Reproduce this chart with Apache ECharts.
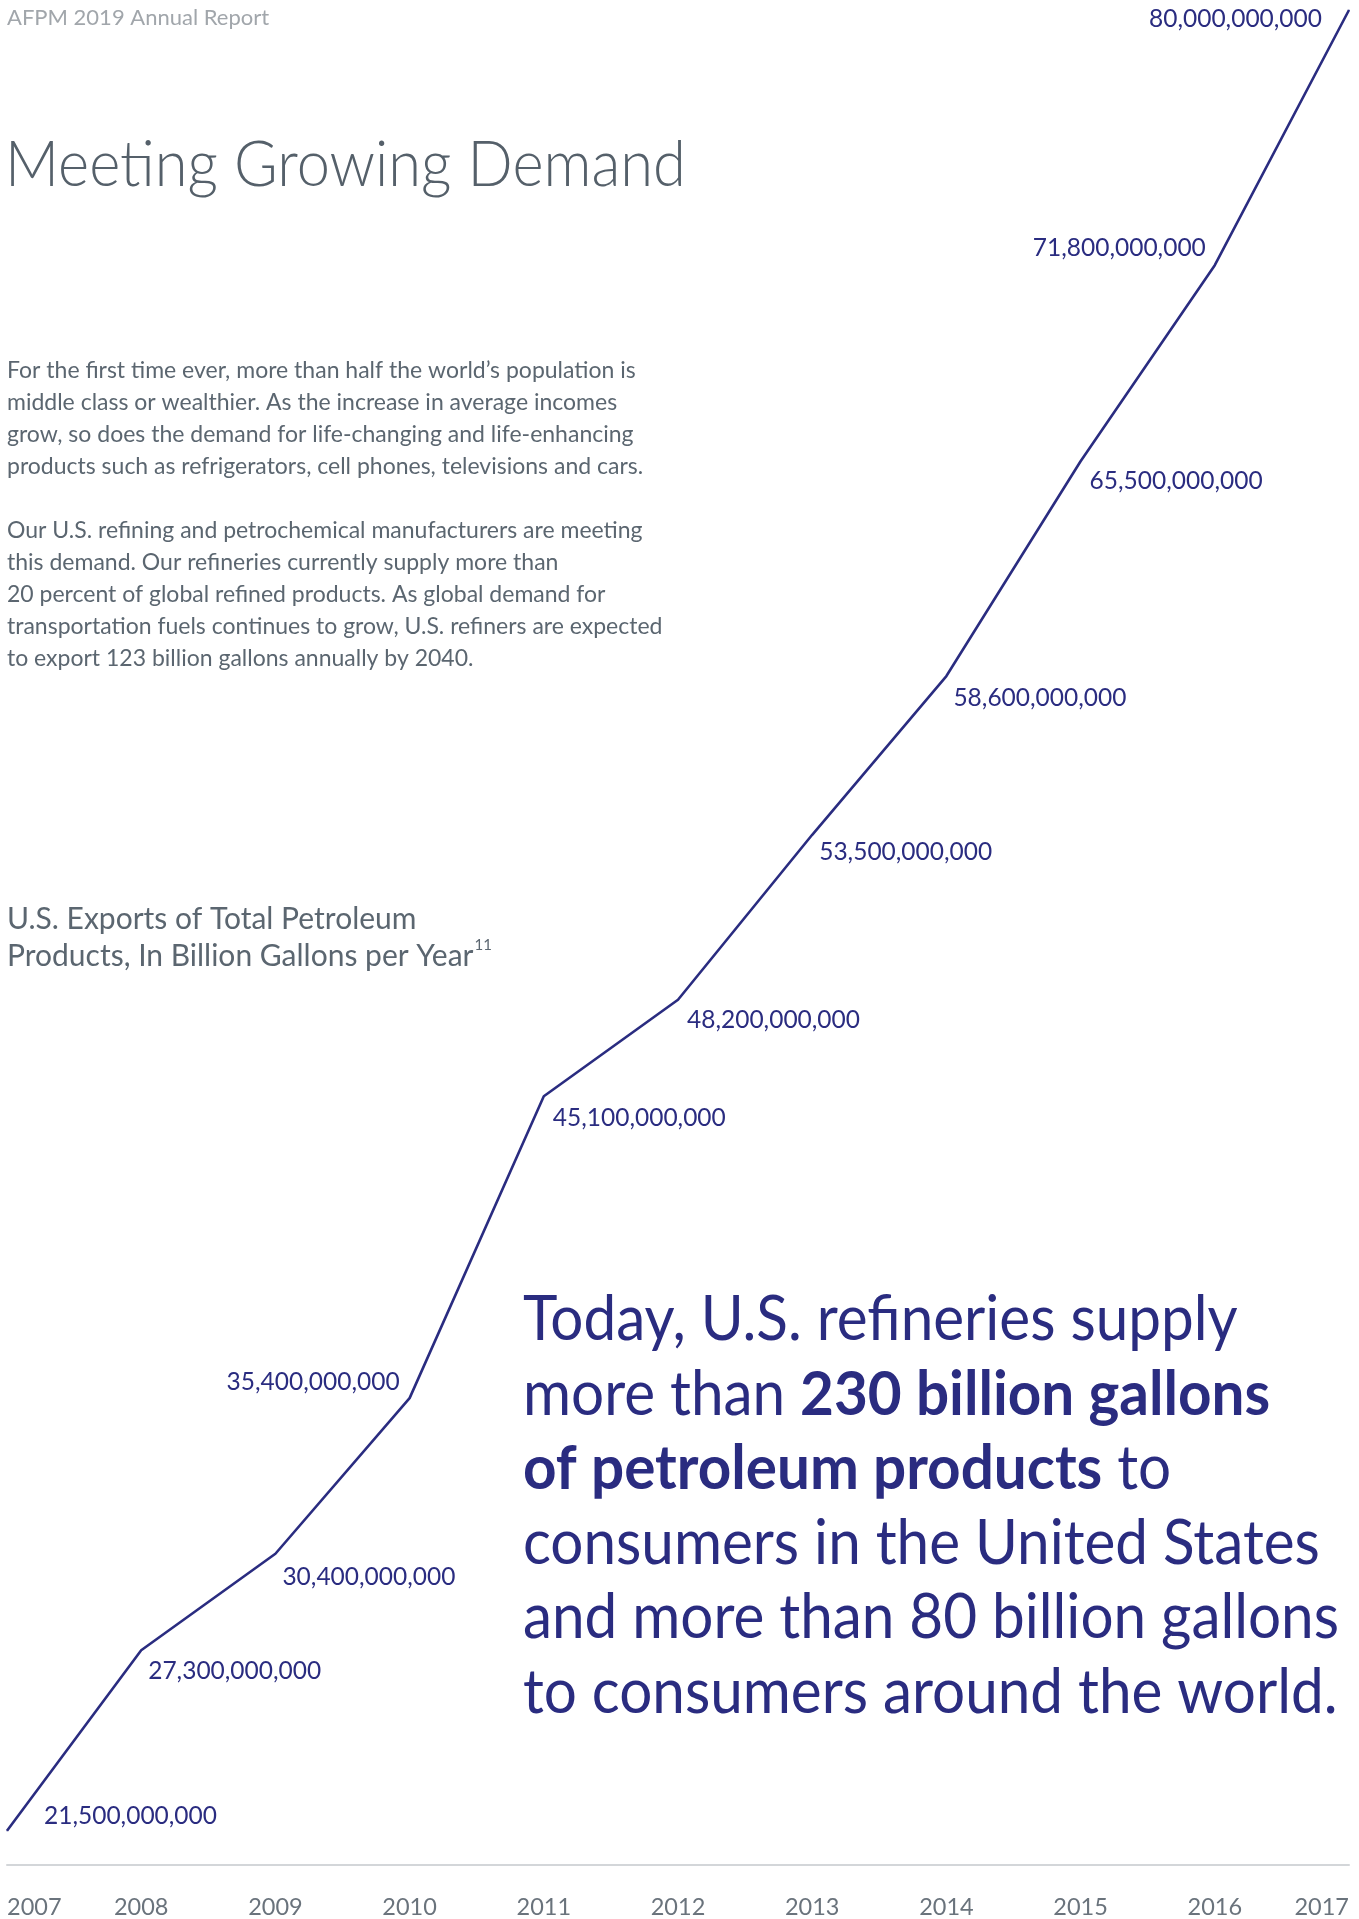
<!DOCTYPE html>
<html>
<head>
<meta charset="utf-8">
<script src="https://cdn.jsdelivr.net/npm/echarts@6/dist/echarts.min.js"></script>
<style>
html,body{margin:0;padding:0;background:#fff;}
#c{width:1359px;height:1919px;}
</style>
</head>
<body>
<div id="c"></div>
<script>
const years = ['2007','2008','2009','2010','2011','2012','2013','2014','2015','2016','2017'];
const exportsGallons = [21500000000, 27300000000, 30400000000, 35400000000, 45100000000, 48200000000, 53500000000, 58600000000, 65500000000, 71800000000, 80000000000];

const headerText = 'AFPM 2019 Annual Report';
const titleText = 'Meeting Growing Demand';
const para1 = ['For the first time ever, more than half the world\u2019s population is','middle class or wealthier. As the increase in average incomes','grow, so does the demand for life-changing and life-enhancing','products such as refrigerators, cell phones, televisions and cars.'];
const para2 = ['Our U.S. refining and petrochemical manufacturers are meeting','this demand. Our refineries currently supply more than','20 percent of global refined products. As global demand for','transportation fuels continues to grow, U.S. refiners are expected','to export 123 billion gallons annually by 2040.'];
const chartTitle = ['U.S. Exports of Total Petroleum','Products, In Billion Gallons per Year'];
const footnoteMark = '11';
const bigLines = ['{n|Today, U.S. refineries supply}','{n|more than }{b|230 billion gallons}','{b|of petroleum products}{n| to}','{n|consumers in the United States}','{n|and more than 80 billion gallons}','{n|to consumers around the world.}'];

const NAVY = '#2a2c80';
const GRAY = '#5b6670';
const FONT = 'Lato, "Open Sans", sans-serif';

// label placement per point: [align, dx, dy]
const labelPlace = [['left',37,-15],['left',7,21],['left',7,23],['right',-10,-16],['left',9,22],['left',9,20],['left',7,17],['left',7,22],['left',9,20],['right',-9,-17],['right',-27,9]];

const chart = echarts.init(document.getElementById('c'), null, {renderer:'canvas'});

function txt(x, y, text, font, fill, extra) {
  return Object.assign({type:'text', x:x, y:y, style:{text:text, font:font, fill:fill, verticalAlign:'middle', textVerticalAlign:'middle'}}, extra || {});
}

const graphics = [];
graphics.push(txt(7, 18, headerText, '400 22px '+FONT, '#a1a6ab'));
graphics.push(txt(5, 166, titleText, '300 63px '+FONT, '#55606a', {scaleX:0.945}));
para1.forEach((t,i)=>graphics.push(txt(7, 371+i*31.8, t, '400 23px '+FONT, GRAY)));
para2.forEach((t,i)=>graphics.push(txt(7, 531+i*31.8, t, '400 23px '+FONT, GRAY)));
graphics.push(txt(7, 919, chartTitle[0], '400 30px '+FONT, GRAY));
graphics.push({type:'text', x:7, y:956, style:{text:'{m|'+chartTitle[1]+'}{s|'+footnoteMark+'}',
  rich:{m:{fontFamily:'Lato', fontSize:30, fontWeight:400, fill:GRAY, lineHeight:36},
        s:{fontFamily:'Lato', fontSize:15, fill:GRAY, verticalAlign:'top', lineHeight:36, padding:[0,0,18,1]}},
  verticalAlign:'middle', textVerticalAlign:'middle'}});
bigLines.forEach((t,i)=>graphics.push({type:'text', x:523, y:1320+i*74.6, scaleX:0.942, style:{text:t,
  rich:{n:{fontFamily:'Lato', fontSize:62, fontWeight:400, fill:NAVY}, b:{fontFamily:'Lato', fontSize:62, fontWeight:700, fill:NAVY}},
  verticalAlign:'middle', textVerticalAlign:'middle'}}));

const option = {
  animation:false,
  backgroundColor:'#ffffff',
  grid:{left:7, right:10, top:10, bottom:54, containLabel:false},
  xAxis:{
    type:'category', data:years, boundaryGap:false,
    axisLine:{show:true, lineStyle:{color:'#d3d6d9', width:2}},
    axisTick:{show:false},
    splitLine:{show:false},
    axisLabel:{color:'#6a737c', fontFamily:FONT, fontSize:23.5, margin:30, alignMinLabel:'left', alignMaxLabel:'right', interval:0}
  },
  yAxis:{type:'value', min:20400000000, max:80000000000, show:false, splitLine:{show:false}},
  series:[{
    type:'line',
    clip:false,
    symbol:'circle', symbolSize:1, showSymbol:true,
    lineStyle:{color:NAVY, width:2.6},
    itemStyle:{color:NAVY},
    data:exportsGallons.map((v,i)=>({
      value:v,
      label:{show:true, position:'inside', align:labelPlace[i][0], verticalAlign:'middle', offset:[labelPlace[i][1], labelPlace[i][2]],
        formatter:(p)=>Number(p.value).toLocaleString('en-US'), color:NAVY, fontFamily:FONT, fontSize:24.5}
    }))
  }],
  graphic:graphics
};
chart.setOption(option);
</script>
</body>
</html>
